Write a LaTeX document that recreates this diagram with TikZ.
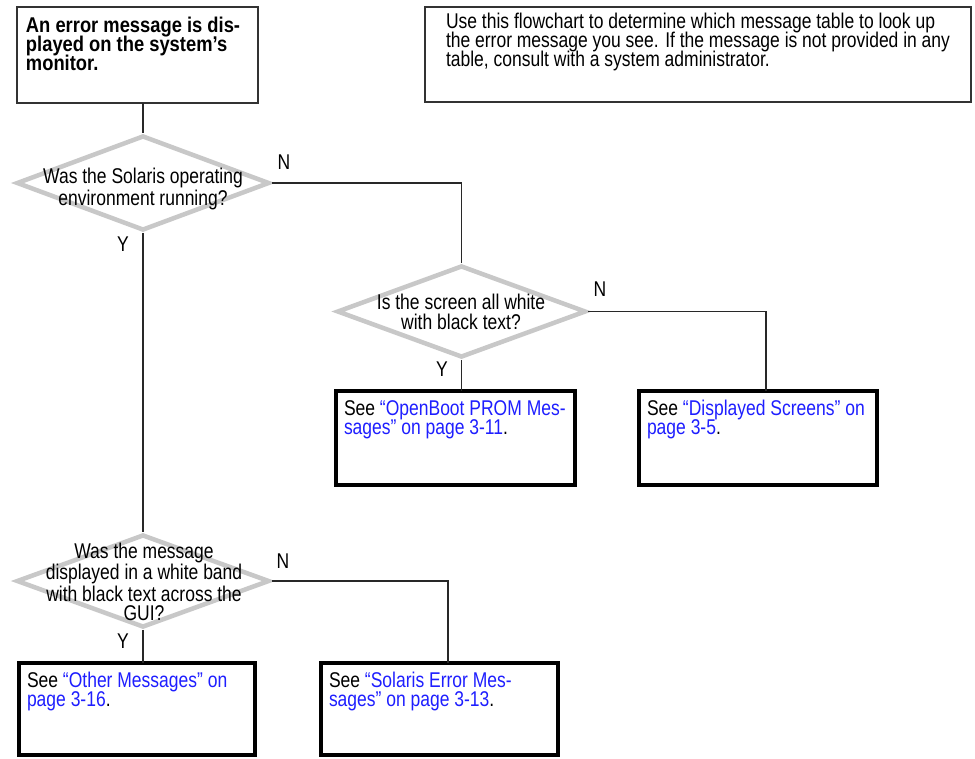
\documentclass[tikz,border=0pt]{standalone}
\usepackage{fontspec}
\setmainfont[FakeStretch=0.82]{Liberation Sans}
\newfontfamily\boldwide[FakeStretch=0.86]{Liberation Sans}
\usetikzlibrary{shapes.geometric}
\definecolor{linkblue}{RGB}{30,30,255}
\definecolor{diagray}{RGB}{200,200,200}
\definecolor{connc}{RGB}{40,40,40}
\newcommand\tightskipx{\lineskiplimit=-20pt\relax}
\begin{document}
\begin{tikzpicture}[x=0.75pt,y=-0.75pt,
  font=\fontsize{16pt}{14.6pt}\selectfont,
  thinbox/.style={draw=black!80, line width=0.9pt, inner ysep=0pt, outer sep=0pt, anchor=north west},
  thickbox/.style={draw=black, line width=3pt, inner ysep=0pt, outer sep=0pt, anchor=north west},
  dia/.style={draw=diagray, line width=3.4pt, shape=diamond, inner sep=0pt, line join=miter},
  qtext/.style={align=center, inner sep=0pt},
  yn/.style={inner sep=0pt},
  conn/.style={draw=connc, line width=0.8pt}
]
\useasboundingbox (0,0) rectangle (975,758);

% boxes
\node[thinbox, inner xsep=6.75pt] (a) at (17,7)
  {\parbox[b][72pt][t]{167.25pt}{\tightskipx\raggedright\boldwide\bfseries\rule{0pt}{18.75pt}\mbox{An error message is dis-}\\\mbox{played on the system’s}\\\mbox{monitor.}}};
\node[thinbox, inner xsep=15.75pt] (note) at (425,7)
  {\parbox[b][71.25pt][t]{378pt}{\tightskipx\raggedright\rule{0pt}{15.75pt}Use this flowchart to determine which message table to look up\\the error message you see. If the message is not provided in any\\table, consult with a system administrator.}};
\node[thickbox, inner xsep=6pt] (ob) at (336,391)
  {\parbox[b][70.5pt][t]{167.25pt}{\tightskipx\raggedright\rule{0pt}{18pt}See \textcolor{linkblue}{“OpenBoot PROM Mes-}\\\textcolor{linkblue}{sages” on page 3-11}.}};
\node[thickbox, inner xsep=6pt] (ds) at (639,391)
  {\parbox[b][70.5pt][t]{166.5pt}{\tightskipx\raggedright\rule{0pt}{18pt}See \textcolor{linkblue}{“Displayed Screens” on}\\\textcolor{linkblue}{page 3-5}.}};
\node[thickbox, inner xsep=6pt] (om) at (19,663)
  {\parbox[b][69pt][t]{165pt}{\tightskipx\raggedright\rule{0pt}{18pt}See \textcolor{linkblue}{“Other Messages” on}\\\textcolor{linkblue}{page 3-16}.}};
\node[thickbox, inner xsep=6pt] (se) at (321,663)
  {\parbox[b][69pt][t]{165.75pt}{\tightskipx\raggedright\rule{0pt}{18pt}See \textcolor{linkblue}{“Solaris Error Mes-}\\\textcolor{linkblue}{sages” on page 3-13}.}};

% diamonds
\node[dia, minimum width=189.75pt, minimum height=71.25pt] (d1) at (143,183) {};
\node[dia, minimum width=186.75pt, minimum height=69pt] (d2) at (461.5,311.5) {};
\node[dia, minimum width=189.75pt, minimum height=69.75pt] (d3) at (143,581) {};

\node[qtext] (d1t) at (143,189) {Was the Solaris operating\\environment running?};
\node[qtext] (d2t) at (461,312) {Is the screen all white\\with black text?};
\node[qtext] (d3t) at (144,582) {Was the message\\displayed in a white band\\with black text across the\\GUI?};

% labels
\node[yn] (n1) at (284,162) {N};
\node[yn] (y1) at (123,244) {Y};
\node[yn] (n2) at (600,289) {N};
\node[yn] (y2) at (442,369) {Y};
\node[yn] (n3) at (283,561) {N};
\node[yn] (y3) at (123,641) {Y};

% connectors
\coordinate (k2) at (766,311);
\coordinate (k3) at (448,582);
\draw[conn] (a.south -| d1.north) -- (d1.north);
\draw[conn] (d1.east) -| (d2.north);
\draw[conn] (d1.south) -- (d3.north);
\draw[conn] (d2.east) -- (d2.east -| k2) -- (k2 |- ds.north);
\draw[conn] (d2.south) -- (d2.south |- ob.north);
\draw[conn] (d3.east) -- (d3.east -| k3) -- (k3 |- se.north);
\draw[conn] (d3.south) -- (d3.south |- om.north);
\end{tikzpicture}
\end{document}
